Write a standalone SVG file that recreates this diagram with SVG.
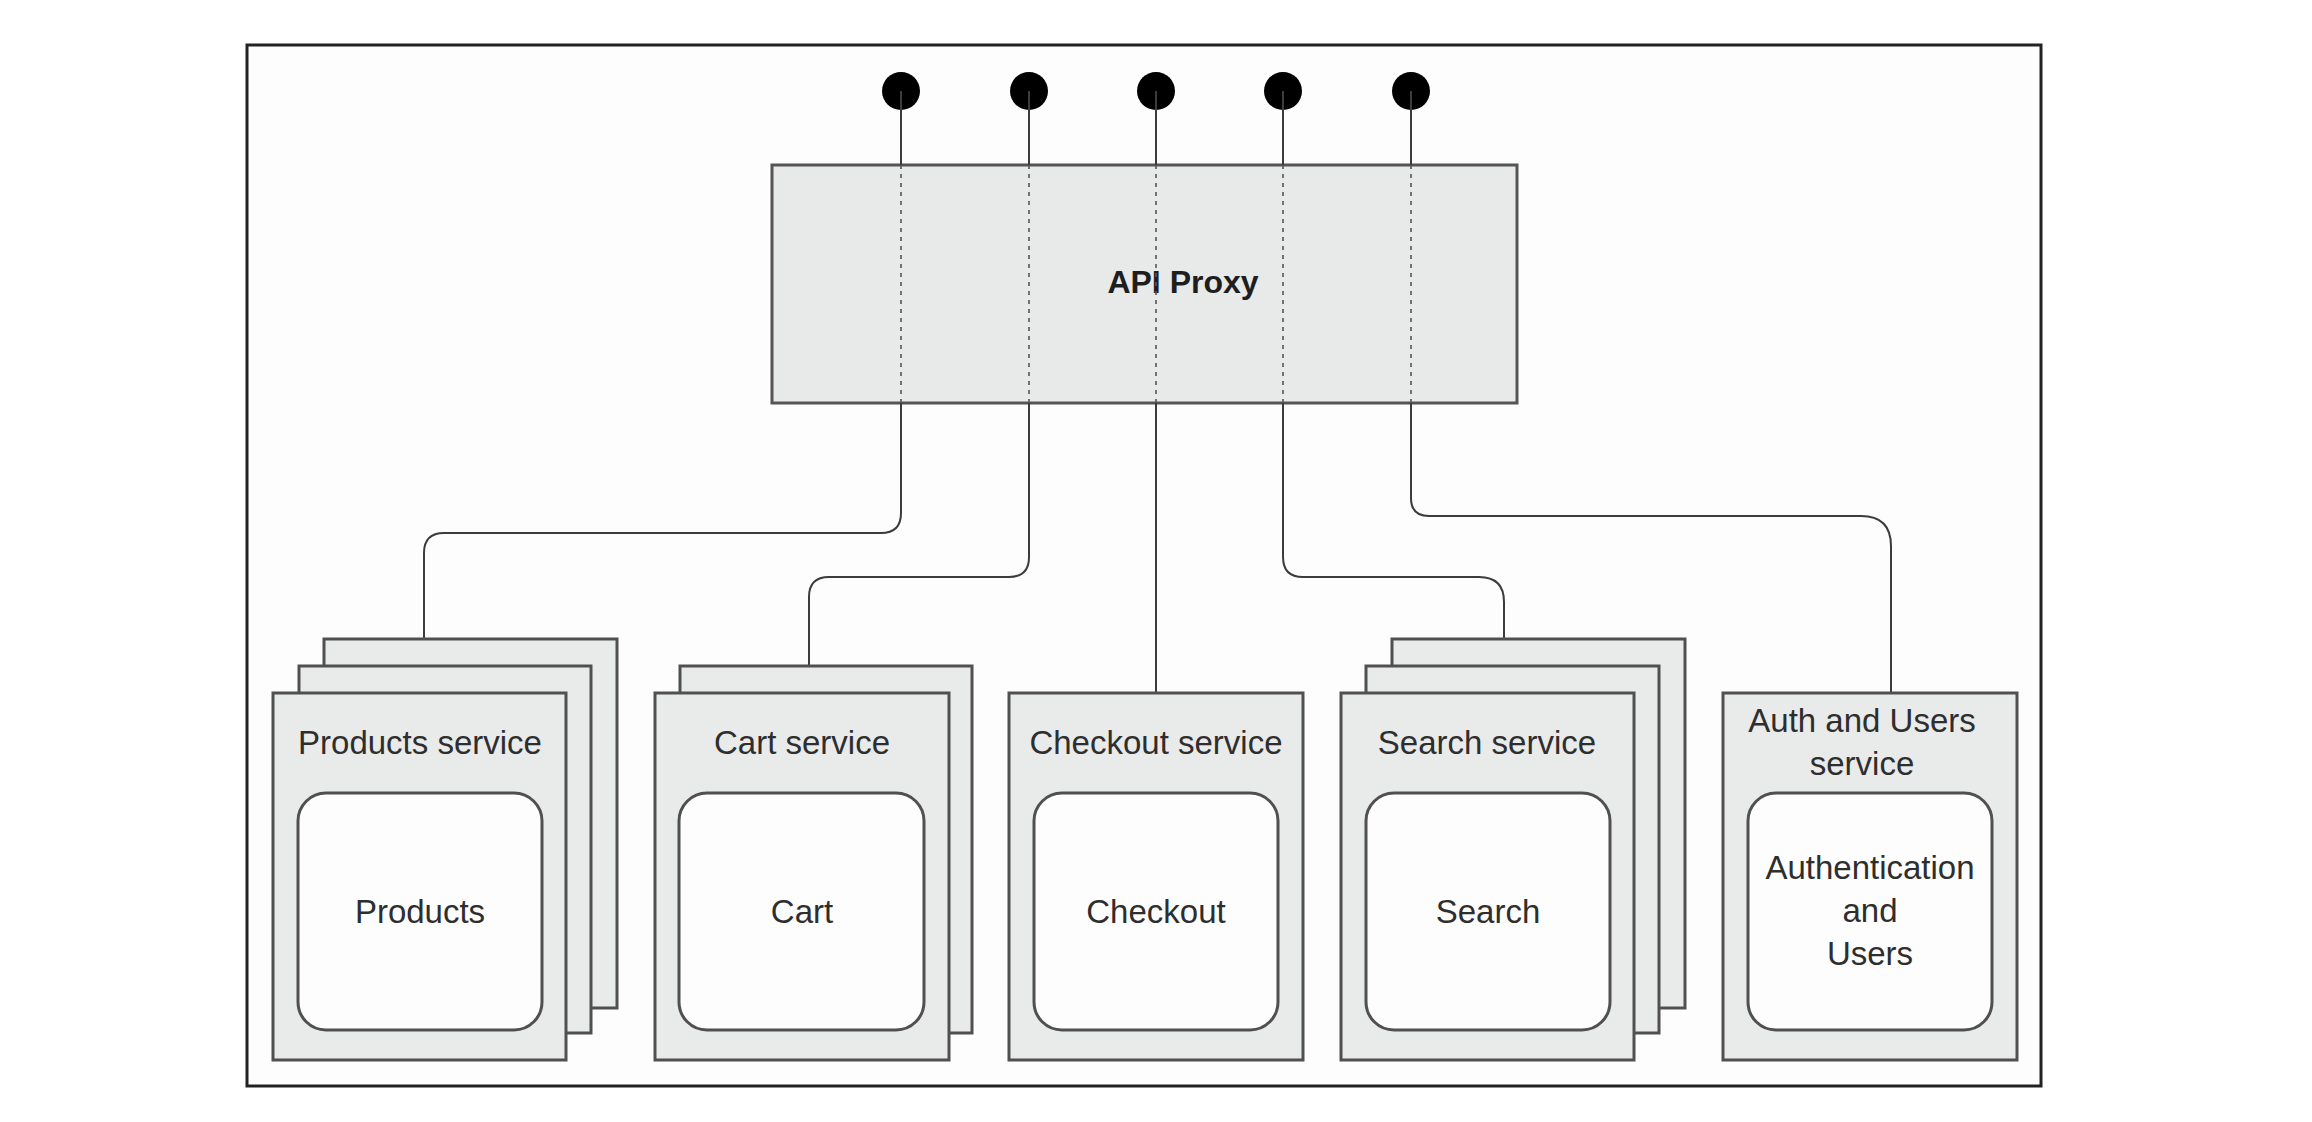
<svg xmlns="http://www.w3.org/2000/svg" width="2312" height="1122" viewBox="0 0 2312 1122">
<style>
.frame{fill:#fdfdfd;stroke:#222;stroke-width:3}
.card{fill:#e9eaea;stroke:#505050;stroke-width:3}
.inner{fill:#fdfdfd;stroke:#505050;stroke-width:3}
.proxy{fill:#e8e9e9;stroke:#555;stroke-width:3}
.wire{fill:none;stroke:#3c3c3c;stroke-width:2}
.dots{fill:none;stroke:#555;stroke-width:1.6;stroke-dasharray:4 5}
.pin{fill:#000}
.t{font-family:"Liberation Sans",Arial,sans-serif;font-size:33px;fill:#2e2e2e;text-anchor:middle}
.b{font-weight:bold;font-size:32px;fill:#1e1e1e}
</style>
<rect x="0" y="0" width="2312" height="1122" fill="#fff"/>
<rect class="frame" x="247" y="45" width="1794" height="1041"/>

<g id="api-proxy">
<rect class="proxy" x="772" y="165" width="745" height="238"/>
<text class="t b" x="1183" y="293">API Proxy</text>
</g>

<g id="connectors">
<g id="pins">
<circle class="pin" cx="901" cy="91" r="19"/>
<circle class="pin" cx="1029" cy="91" r="19"/>
<circle class="pin" cx="1156" cy="91" r="19"/>
<circle class="pin" cx="1283" cy="91" r="19"/>
<circle class="pin" cx="1411" cy="91" r="19"/>
</g>
<path class="wire" d="M901 91V165M1029 91V165M1156 91V165M1283 91V165M1411 91V165"/>
<path class="dots" d="M901 165V403M1029 165V403M1156 165V403M1283 165V403M1411 165V403"/>
<path class="wire" d="M901 403V513Q901 533 881 533H444Q424 533 424 553V639"/>
<path class="wire" d="M1029 403V557Q1029 577 1009 577H829Q809 577 809 597V666"/>
<path class="wire" d="M1156 403V693"/>
<path class="wire" d="M1283 403V557Q1283 577 1303 577H1479Q1504 577 1504 602V639"/>
<path class="wire" d="M1411 403V498Q1411 516 1429 516H1861Q1891 516 1891 546V693"/>
</g>

<g id="products-service">
<rect class="card" x="324" y="639" width="293" height="369"/>
<rect class="card" x="299" y="666" width="292" height="367"/>
<rect class="card" x="273" y="693" width="293" height="367"/>
<text class="t" x="420" y="754">Products service</text>
<rect class="inner" x="298" y="793" width="244" height="237" rx="28" ry="28"/>
<text class="t" x="420" y="923">Products</text>
</g>

<g id="cart-service">
<rect class="card" x="680" y="666" width="292" height="367"/>
<rect class="card" x="655" y="693" width="294" height="367"/>
<text class="t" x="802" y="754">Cart service</text>
<rect class="inner" x="679" y="793" width="245" height="237" rx="28" ry="28"/>
<text class="t" x="802" y="923">Cart</text>
</g>

<g id="checkout-service">
<rect class="card" x="1009" y="693" width="294" height="367"/>
<text class="t" x="1156" y="754">Checkout service</text>
<rect class="inner" x="1034" y="793" width="244" height="237" rx="28" ry="28"/>
<text class="t" x="1156" y="923">Checkout</text>
</g>

<g id="search-service">
<rect class="card" x="1392" y="639" width="293" height="369"/>
<rect class="card" x="1366" y="666" width="293" height="367"/>
<rect class="card" x="1341" y="693" width="293" height="367"/>
<text class="t" x="1487" y="754">Search service</text>
<rect class="inner" x="1366" y="793" width="244" height="237" rx="28" ry="28"/>
<text class="t" x="1488" y="923">Search</text>
</g>

<g id="auth-service">
<rect class="card" x="1723" y="693" width="294" height="367"/>
<text class="t" x="1862" y="732">Auth and Users</text>
<text class="t" x="1862" y="775">service</text>
<rect class="inner" x="1748" y="793" width="244" height="237" rx="28" ry="28"/>
<text class="t" x="1870" y="879">Authentication</text>
<text class="t" x="1870" y="922">and</text>
<text class="t" x="1870" y="965">Users</text>
</g>
</svg>
